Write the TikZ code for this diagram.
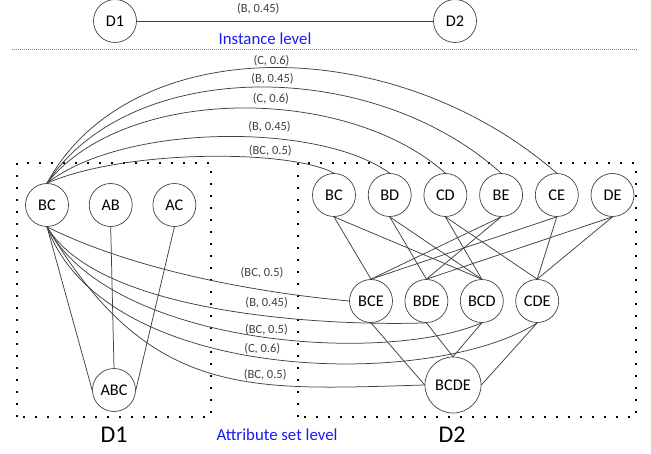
\documentclass[tikz,border=0pt]{standalone}
\usepackage{fontspec}
\setmainfont{Carlito}
\usetikzlibrary{positioning}
\definecolor{edgegray}{HTML}{404040}
\definecolor{levelblue}{HTML}{1A1AF0}

\begin{document}
\begin{tikzpicture}[x=1pt,y=1pt,
  node distance=12pt,
  attr/.style={circle,draw=edgegray,line width=0.7pt,minimum size=43pt,inner sep=0pt,font=\fontsize{16.3}{18}\selectfont},
  wt/.style={font=\fontsize{12.5}{14}\selectfont,inner sep=1pt},
  link/.style={edgegray,line width=0.75pt},
  level/.style={levelblue,font=\fontsize{16.8}{19}\selectfont},
  dset/.style={font=\fontsize{24}{26}\selectfont},
  dotbox/.style={line width=1.6pt,dash pattern=on 1.6pt off 10.4pt}
]
\useasboundingbox (0,0) rectangle (651,453);

% instance level
\node[attr] (d1) at (115,432) {D1};
\node[attr] (d2) at (455,432) {D2};
\draw[link] (d1) -- node[wt,above=5pt,pos=0.41] {(B, 0.45)} (d2);
\node[level] (inst) at (265,414) {Instance level};
\draw[gray,line width=0.6pt,dash pattern=on 1.2pt off 0.8pt] (12,403.5) -- (637,403.5);

% attribute sets of D1
\draw[dotbox] (17,36) rectangle (211,290);
\node[attr] (bc1) at (47,248) {BC};
\node[attr,right=20pt of bc1] (ab) {AB};
\node[attr,right=20pt of ab] (ac) {AC};
\node[attr] (abc) at (114,63) {ABC};
\draw[link] (bc1.south) -- (abc.west);
\draw[link] (ab.south) -- (abc.north);
\draw[link] (ac.south) -- (abc.east);

% attribute sets of D2
\draw[dotbox] (298,36) rectangle (636,290);
\node[attr] (bc2) at (334,258) {BC};
\node[attr,right=of bc2] (bd) {BD};
\node[attr,right=of bd] (cd) {CD};
\node[attr,right=of cd] (be) {BE};
\node[attr,right=of be] (ce) {CE};
\node[attr,right=of ce] (de) {DE};
\node[attr] (bce) at (371,152) {BCE};
\node[attr,right=11.7pt of bce] (bde) {BDE};
\node[attr,right=11.7pt of bde] (bcd) {BCD};
\node[attr,right=11.7pt of bcd] (cde) {CDE};
\node[attr,minimum size=56pt] (bcde) at (453,68) {BCDE};
\foreach \a/\b in {bc2/bce,bc2/bcd,bd/bde,bd/bcd,cd/bcd,cd/cde,be/bce,be/bde,ce/bce,ce/cde,de/bde,de/cde}
  \draw[link] (\a.south) -- (\b.north);
\draw[link] (bce.south) -- (bcde.west);
\draw[link] (bde.south) -- (bcde.north);
\draw[link] (bcd.south) -- (bcde.north);
\draw[link] (cde.south) -- (bcde.east);

% matches over the top
\draw[link] (bc1.north) .. controls +(78,34) and +(-44,24) .. node[wt,above=1.3pt,pos=0.71] {(BC, 0.5)} (bc2.north);
\draw[link] (bc1.north) .. controls +(78,60.5) and +(-69,50.5) .. node[wt,above=4.3pt,pos=0.62] {(B, 0.45)} (bd.north);
\draw[link] (bc1.north) .. controls +(78,98.5) and +(-99,88.5) .. node[wt,above=3.2pt,pos=0.57] {(C, 0.6)} (cd.north);
\draw[link] (bc1.north) .. controls +(83,126.5) and +(-129,116.5) .. node[wt,above=1.4pt,pos=0.53] {(B, 0.45)} (be.north);
\draw[link] (bc1.north) .. controls +(83,152.5) and +(-164,142.5) .. node[wt,above=0pt,pos=0.5] {(C, 0.6)} (ce.north);

% matches underneath
\draw[link] (bc1.south) .. controls +(83,-41.5) and +(-99.5,9) .. node[wt,above=10pt,pos=0.72] {(BC, 0.5)} (bce.west);
\draw[link] (bc1.south) .. controls +(53,-88.5) and +(-96,-3.5) .. node[wt,above=6.5pt,pos=0.6] {(B, 0.45)} (bde.south);
\draw[link] (bc1.south) .. controls +(63,-118.5) and +(-100,-42.5) .. node[wt,above=1.5pt,pos=0.53] {(BC, 0.5)} (bcd.south);
\draw[link] (bc1.south) .. controls +(58,-158.5) and +(-105,-67.5) .. node[wt,above=2.5pt,pos=0.48] {(C, 0.6)} (cde.south);
\draw[link] (bc1.south) .. controls +(103,-173.5) and +(-175,-5) .. node[wt,above=2pt,pos=0.65] {(BC, 0.5)} (bcde.west);

% level captions
\node[dset] (set1) at (114,18) {D1};
\node[dset] (set2) at (452,18) {D2};
\node[level] (attrlvl) at (277,18) {Attribute set level};
\end{tikzpicture}
\end{document}
